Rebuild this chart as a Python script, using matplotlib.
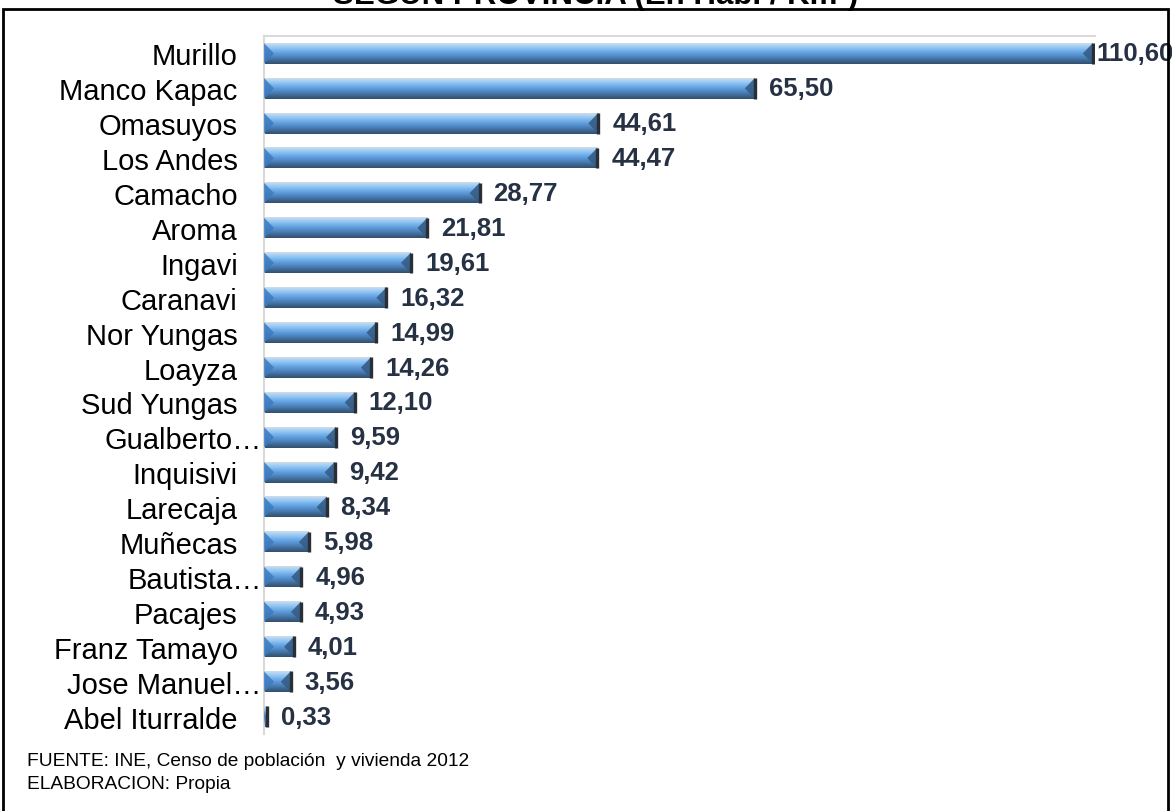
import numpy as np
import matplotlib
matplotlib.use("Agg")
import matplotlib.pyplot as plt
from matplotlib.patches import Polygon, Rectangle
from matplotlib.colors import LinearSegmentedColormap
import matplotlib.transforms as mtrans

plt.rcParams['font.family'] = ['Liberation Sans', 'DejaVu Sans']

provincias = ["Murillo", "Manco Kapac", "Omasuyos", "Los Andes", "Camacho", "Aroma",
              "Ingavi", "Caranavi", "Nor Yungas", "Loayza", "Sud Yungas", "Gualberto…",
              "Inquisivi", "Larecaja", "Muñecas", "Bautista…", "Pacajes", "Franz Tamayo",
              "Jose Manuel…", "Abel Iturralde"]
densidad = [110.60, 65.50, 44.61, 44.47, 28.77, 21.81, 19.61, 16.32, 14.99, 14.26,
            12.10, 9.59, 9.42, 8.34, 5.98, 4.96, 4.93, 4.01, 3.56, 0.33]
titulo = "SEGÚN PROVINCIA (En Hab. / Km²)"
fuente = "FUENTE: INE, Censo de población  y vivienda 2012\nELABORACION: Propia"

fig = plt.figure(figsize=(11.72, 8.12), dpi=100)
ax = fig.add_axes([0.2253, 0.0948, 0.7090, 0.8596])

grad_colors = ["#d3dde6", "#a8d0f5", "#8cc2f2", "#70aee8", "#5f9cdb",
               "#5089c6", "#4676a8", "#3b6189", "#324f6e"]
cmap = LinearSegmentedColormap.from_list("bar", grad_colors)
grad = cmap(np.linspace(0, 1, 64))[:, None, :3]

h = 0.59
xmax = 110.9
px_per_unit = (0.7090 * 1172) / xmax
bevel_px = 10.0
ypos = np.arange(len(provincias))

for i, v in zip(ypos, densidad):
    top, bot = i - h / 2, i + h / 2
    ax.imshow(grad, extent=(0, v, bot, top), aspect='auto', origin='upper',
              interpolation='bilinear', zorder=2)
    bw = min(bevel_px / px_per_unit, v / 2)
    ax.add_patch(Polygon([(0, top), (0, bot), (bw, i)], closed=True,
                         facecolor="#3c7bc0", edgecolor='none', alpha=0.85, zorder=3))
    ax.add_patch(Polygon([(v, top), (v, bot), (v - bw, i)], closed=True,
                         facecolor="#355d86", edgecolor='none', alpha=0.9, zorder=3))
    ax.plot([v, v], [top, bot], color="#2a2f36", lw=2.4, zorder=4,
            solid_capstyle='butt')
    off = 4 if v == max(densidad) else 14
    ax.annotate(f"{v:.2f}".replace(".", ","), xy=(v, i), xytext=(off, 0),
                textcoords='offset pixels',
                ha='left', va='center', fontsize=18.5, fontweight='bold',
                color="#263143", annotation_clip=False, zorder=5)

ax.set_xlim(0, xmax)
ax.set_ylim(len(provincias) - 0.5, -0.5)
ax.set_yticks(ypos)
ax.set_yticklabels(provincias, fontsize=21, color="black")
ax.tick_params(axis='y', length=0, pad=19)
ax.set_xticks([])
for s in ['right', 'bottom']:
    ax.spines[s].set_visible(False)
for s in ['left', 'top']:
    ax.spines[s].set_color("#d9d9d9")
    ax.spines[s].set_linewidth(1.5)

# truncated labels sit a bit further right
for lab in ax.get_yticklabels():
    if lab.get_text().endswith("…"):
        lab.set_transform(lab.get_transform() +
                          mtrans.ScaledTranslation(24 / 100, 0, fig.dpi_scale_trans))

# outer frame
fig.patches.append(Rectangle((3 / 1172, -0.01), 1165 / 1172, 1 - 10 / 812 + 0.01,
                             transform=fig.transFigure, fill=False,
                             edgecolor="black", lw=2, zorder=10))

fig.text(596 / 1172, 1 - 4 / 812, titulo, ha='center', va='baseline',
         fontsize=22.5, fontweight='bold', color="black")
fig.text(27 / 1172, 1 - 793 / 812, fuente, ha='left', va='bottom',
         fontsize=13.8, color="black", linespacing=1.45)

fig.savefig("out.png", dpi=100)
